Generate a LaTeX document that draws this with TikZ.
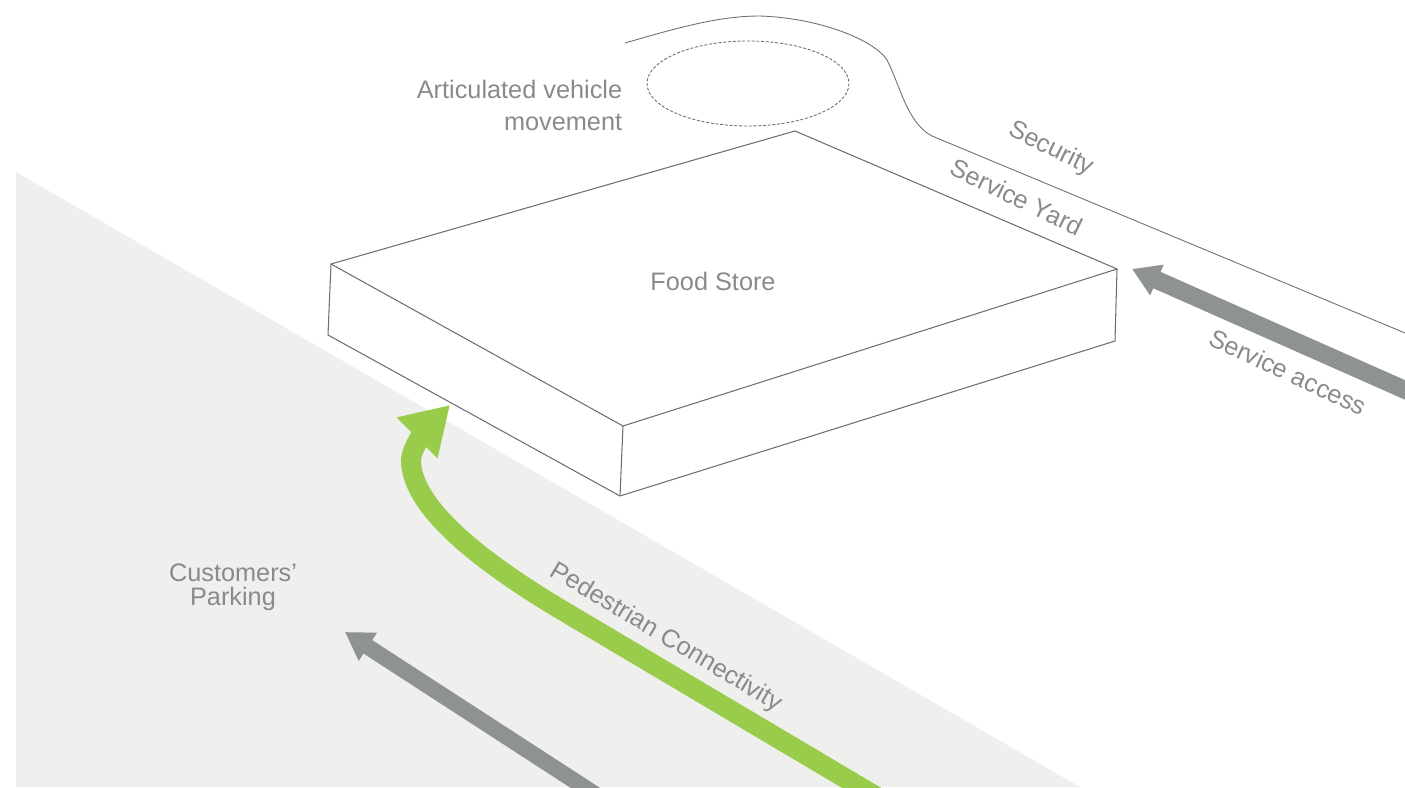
\documentclass[tikz,border=0pt]{standalone}
\usepackage{fontspec}
\setmainfont{Liberation Sans}
\usetikzlibrary{arrows.meta, calc}
\definecolor{parkinggrey}{HTML}{EFEFED}
\definecolor{linegrey}{HTML}{6E6E6E}
\definecolor{labelgrey}{HTML}{8A8A8A}
\definecolor{accessgrey}{HTML}{8F9292}
\definecolor{walkgreen}{HTML}{9ACC4B}

\begin{document}
\begin{tikzpicture}[x=0.02cm, y=-0.02cm,
    outline/.style={draw=linegrey, line width=0.6pt, line join=round},
    label/.style={text=labelgrey, font=\fontsize{14.4}{14.4}\selectfont, inner sep=0pt},
    access/.style={draw=accessgrey, -{Triangle[length=15.5pt, width=18pt]}},
    walk/.style={draw=walkgreen, line width=11.4pt, -{Triangle[length=26.5pt, width=31pt]}}]
    \path[use as bounding box, clip] (0, 0) rectangle (1405, 787);

    % Parking area
    \fill[parkinggrey] (16, 172) -- (1080, 787) -- (16, 787) -- cycle;

    % Building corners
    \coordinate (leftTop) at (331, 264);
    \coordinate (backTop) at (795, 131);
    \coordinate (rightTop) at (1117, 269);
    \coordinate (frontTop) at (623, 426);
    \coordinate (leftBase) at (328, 335);
    \coordinate (frontBase) at (620, 496);
    \coordinate (rightBase) at (1115, 341);
    \path[outline] (leftTop) -- (backTop) -- (rightTop) -- (frontTop) -- cycle;
    \path[outline] (leftTop) -- (leftBase) -- (frontBase) -- (rightBase) -- (rightTop);
    \path[outline] (frontTop) -- (frontBase);

    % Service road and turning circle
    \draw[linegrey, line width=0.5pt] (625, 43) .. controls (680, 27) and (720, 16) .. (760, 16)
        .. controls (820, 18) and (874, 40) .. (887, 60)
        .. controls (900, 85) and (907, 123) .. (932, 136) -- (1405, 333);
    \draw[linegrey, line width=0.5pt, dash pattern=on 1.7pt off 1pt] (748, 83.5) ellipse (101 and 42.5);

    % Arrows
    \coordinate (serviceStart) at (1430, 401);
    \coordinate (serviceTip) at (1132, 269);
    \draw[access, line width=10.2pt] (serviceStart) -- (serviceTip);
    \coordinate (carStart) at (604, 800);
    \coordinate (carTip) at (345, 632);
    \draw[access, line width=9.1pt] (carStart) -- (carTip);
    \coordinate (walkStart) at (882, 800);
    \coordinate (walkBend) at (560, 609);
    \coordinate (walkTip) at (450, 405);
    \draw[walk] (walkStart) -- (walkBend) .. controls (490, 567) and (411, 510) .. (411, 460)
        .. controls (411, 448) and (428, 427) .. (walkTip);

    % Labels
    \node[label, anchor=east, align=right] (vehicle1) at (622.5, 89) {Articulated vehicle};
    \node[label, anchor=east, align=right] (vehicle2) at (622.5, 122) {movement};
    \node[label] (store) at (713, 281) {Food Store};
    \node[label] (customers) at (233, 573) {Customers’};
    \node[label] (parking) at (233, 599) {Parking};
    \node[label, rotate=-31] (pedestrian) at (666, 638) {Pedestrian Connectivity};
    \node[label, rotate=-26] (security) at (1051, 149) {Security};
    \node[label, rotate=-26] (yard) at (1017, 197) {Service Yard};
    \node[label, rotate=-25] (service) at (1288, 372) {Service access};
\end{tikzpicture}
\end{document}
